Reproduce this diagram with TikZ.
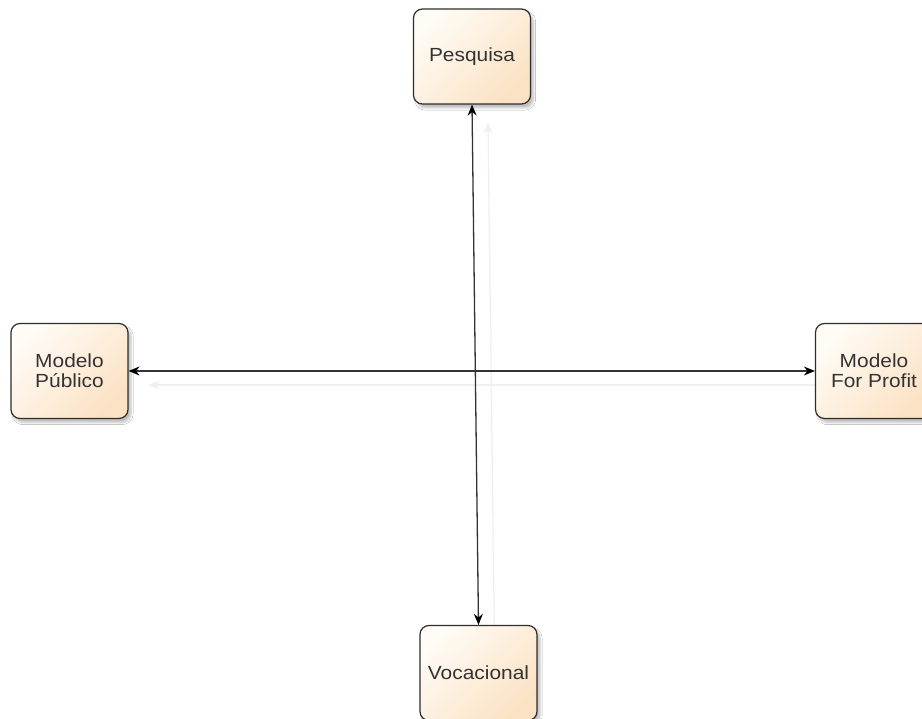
\documentclass[tikz,border=0pt]{standalone}
\usepackage{fontspec}
\setmainfont{Liberation Sans}
\newfontfamily\boxfont[FakeStretch=1.1]{Liberation Sans}
\usetikzlibrary{arrows.meta,shadows.blur,backgrounds}
\definecolor{boxlight}{HTML}{FFFBF5}
\definecolor{boxdark}{HTML}{FBE2C4}
\definecolor{boxedge}{HTML}{2E2E2E}
\definecolor{ghost}{HTML}{F0F0F0}
\tikzset{
  entity/.style={draw=boxedge, line width=1.2pt, rounded corners=9pt,
    minimum width=117pt, minimum height=95pt, inner sep=0pt,
    top color=boxlight, bottom color=boxdark, shading angle=45,
    blur shadow={shadow xshift=3pt, shadow yshift=-4pt, shadow blur steps=6, shadow opacity=25},
    align=center, font=\boxfont\fontsize{19}{20}\selectfont, text=black!80},
  link/.style={draw=black!80, line width=1.3pt, {Stealth[length=11pt,width=9pt,color=black]}-{Stealth[length=11pt,width=9pt,color=black]}},
  ghostlink/.style={draw=ghost, line width=1.3pt, {Stealth[length=11pt,width=9pt]}-{Stealth[length=11pt,width=9pt]}}
}
\begin{document}
\begin{tikzpicture}[x=1pt,y=-1pt]
\clip (0,0) rectangle (922,719);
\node[entity] (P) at (472,56.5) {Pesquisa};
\node[entity] (MP) at (69.5,371) {Modelo\\Público};
\node[entity] (MF) at (874,371) {Modelo\\For Profit};
\node[entity] (V) at (478.5,673) {Vocacional};
\coordinate (gP) at ([shift={(16pt,-18pt)}]P.south);
\coordinate (gV) at ([shift={(16pt,-18pt)}]V.north);
\coordinate (gMP) at ([shift={(20pt,-14pt)}]MP.east);
\coordinate (gMF) at ([shift={(20pt,-14pt)}]MF.west);
\begin{scope}[on background layer]
\fill[white] (0,0) rectangle (922,719);
\draw[ghostlink] (gP) -- (gV);
\draw[ghostlink] (gMP) -- (gMF);
\end{scope}
\draw[link] (P.south) -- (V.north);
\draw[link] (MP.east) -- (MF.west);
\end{tikzpicture}
\end{document}
